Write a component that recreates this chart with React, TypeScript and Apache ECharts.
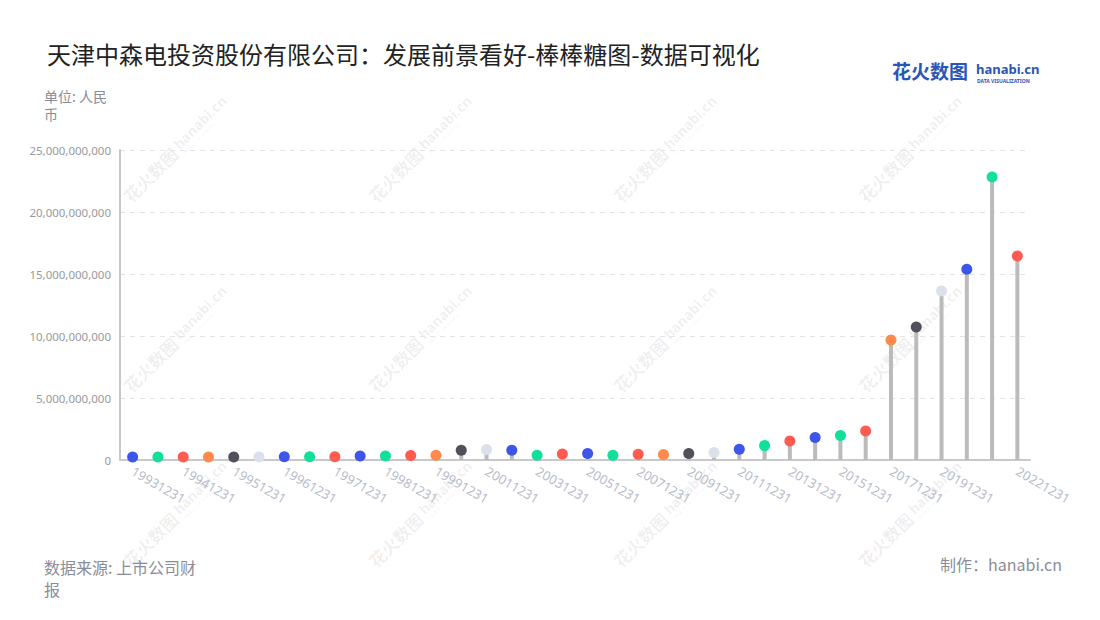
import React, { useEffect, useRef } from "react";
import * as echarts from "echarts";

const categories: string[] = [
  "19931231", "19940630", "19941231", "19950630", "19951231", "19960630",
  "19961231", "19970630", "19971231", "19980630", "19981231", "19990630",
  "19991231", "20001231", "20011231", "20021231", "20031231", "20041231",
  "20051231", "20061231", "20071231", "20081231", "20091231", "20101231",
  "20111231", "20121231", "20131231", "20141231", "20151231", "20161231",
  "20171231", "20181231", "20191231", "20201231", "20211231", "20221231",
];

const values: number[] = [
  240000000, 240000000, 240000000, 240000000, 240000000, 240000000,
  260000000, 260000000, 270000000, 320000000, 320000000, 370000000,
  380000000, 780000000, 840000000, 780000000, 380000000, 480000000,
  520000000, 380000000, 460000000, 440000000, 520000000, 600000000,
  860000000, 1160000000, 1540000000, 1810000000, 1980000000, 2330000000,
  9680000000, 10720000000, 13630000000, 15380000000, 22820000000, 16450000000,
];

const palette: string[] = [
  "#3D55E8", "#12DF9C", "#FF5B51", "#FF8A4C", "#50515B", "#DCE0EA",
  "#3D55E8", "#12DF9C", "#FF5B51",
];

const yTicks = { min: 0, max: 25000000000, interval: 5000000000 };

const showLabel = (i: number) => i === categories.length - 1 || (i % 2 === 0 && i < categories.length - 2);

export default function App() {
  const ref = useRef<HTMLDivElement>(null);
  useEffect(() => {
    if (!ref.current) return;
    const chart = echarts.init(ref.current, null, { renderer: "svg" });
    const wmCols = [180, 425, 670, 915];
    const wmRows = [145, 335, 510];
    const watermarks: any[] = [];
    wmRows.forEach((y) =>
      wmCols.forEach((x) => {
        watermarks.push({
          type: "group",
          x,
          y,
          rotation: Math.PI / 4,
          z: -10,
          silent: true,
          children: [
            {
              type: "text",
              x: -8,
              y: 0,
              style: {
                text: "花火数图",
                fill: "rgba(0,0,0,0.07)",
                font: "bold 17px 'Noto Sans CJK SC'",
                align: "right",
                verticalAlign: "middle",
              },
            },
            {
              type: "text",
              x: -4,
              y: -2,
              style: {
                text: "hanabi.cn",
                fill: "rgba(0,0,0,0.07)",
                font: "bold 14px 'Noto Sans'",
                align: "left",
                verticalAlign: "middle",
              },
            },
            {
              type: "text",
              x: -3,
              y: 9,
              style: {
                text: "DATA VISUALIZATION",
                fill: "rgba(0,0,0,0.06)",
                font: "bold 4px 'Noto Sans'",
                align: "left",
                verticalAlign: "middle",
              },
            },
          ],
        });
      })
    );
    chart.setOption({
      animation: false,
      backgroundColor: "#ffffff",
      textStyle: { fontFamily: "'Noto Sans', 'Noto Sans CJK SC', sans-serif" },
      title: {
        text: "天津中森电投资股份有限公司：发展前景看好-棒棒糖图-数据可视化",
        left: 42,
        top: 36,
        textStyle: {
          fontSize: 24,
          fontWeight: "normal",
          color: "#222222",
          fontFamily: "'Noto Sans CJK SC', sans-serif",
        },
      },
      grid: { left: 120, right: 70, top: 150, bottom: 160 },
      xAxis: {
        type: "category",
        data: categories,
        axisLine: { lineStyle: { color: "#c8c8c8", width: 2 } },
        axisTick: {
          alignWithLabel: true,
          interval: (i: number) => showLabel(i),
          lineStyle: { color: "#bbbbbb" },
          length: 5,
        },
        axisLabel: {
          interval: (i: number) => showLabel(i),
          rotate: -30,
          margin: 10,
          color: "#b8bccb",
          fontSize: 13,
          fontFamily: "'Noto Sans', sans-serif",
        },
      },
      yAxis: {
        type: "value",
        min: yTicks.min,
        max: yTicks.max,
        interval: yTicks.interval,
        axisLine: { show: true, lineStyle: { color: "#c8c8c8", width: 2 } },
        axisTick: { show: false },
        axisLabel: {
          color: "#9a9a9a",
          fontSize: 11.5,
          margin: 9,
          formatter: (v: number) => v.toLocaleString("en-US"),
        },
        splitLine: { lineStyle: { color: "#e3e3e3", type: [5, 5] } },
      },
      series: [
        {
          type: "bar",
          data: values,
          barWidth: 4,
          itemStyle: { color: "#bbbbbb" },
          silent: true,
        },
        {
          type: "scatter",
          data: values,
          symbolSize: 11,
          itemStyle: {
            color: (p: any) => palette[p.dataIndex % palette.length],
            opacity: 1,
          },
          z: 3,
        },
      ],
      graphic: [
        ...watermarks,
        {
          type: "text",
          left: 44,
          top: 87,
          style: {
            text: "单位: 人民\n币",
            fill: "#8a8d99",
            font: "14px 'Noto Sans CJK SC'",
            lineHeight: 18,
          },
        },
        {
          type: "text",
          left: 44,
          top: 556,
          style: {
            text: "数据来源: 上市公司财\n报",
            fill: "#8a8d99",
            font: "16px 'Noto Sans CJK SC'",
            lineHeight: 22,
          },
        },
        {
          type: "text",
          right: 38,
          top: 556,
          style: {
            text: "制作：hanabi.cn",
            fill: "#8a8d99",
            font: "16px 'Noto Sans CJK SC'",
          },
        },
        {
          type: "text",
          left: 892,
          top: 61,
          style: {
            text: "花火数图",
            fill: "#2a55b8",
            font: "bold 19px 'Noto Sans CJK SC'",
          },
        },
        {
          type: "text",
          left: 976,
          top: 62,
          style: {
            text: "hanabi.cn",
            fill: "#2a55b8",
            font: "bold 13px 'Noto Sans'",
          },
        },
        {
          type: "text",
          left: 977,
          top: 78,
          style: {
            text: "DATA VISUALIZATION",
            fill: "#2a55b8",
            font: "bold 5px 'Noto Sans'",
          },
        },
      ],
    });
    return () => chart.dispose();
  }, []);
  return (
    <div
      ref={ref}
      style={{ position: "fixed", left: 0, top: 0, width: 1100, height: 620 }}
    />
  );
}
